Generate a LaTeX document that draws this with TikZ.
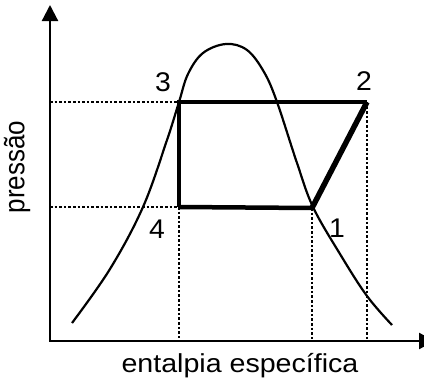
\documentclass[tikz,border=0pt]{standalone}
\usepackage{fontspec}
\setmainfont{Liberation Sans}
\usetikzlibrary{arrows.meta}
\begin{document}
\begin{tikzpicture}[x=1pt,y=-1pt,
  axis/.style={line width=2.2pt,-{Triangle[length=16pt,width=16pt]}},
  cycleline/.style={line width=4.5pt,line join=miter},
  dotline/.style={line width=2.6pt,dash pattern=on 2.6pt off 2pt},
  curve/.style={line width=2.2pt},
  lbl/.style={font=\fontsize{26}{26}\selectfont,xscale=1.1,inner sep=0pt},
  num/.style={font=\fontsize{27}{27}\selectfont,xscale=1.05,inner sep=0pt}]
\clip (0,0) rectangle (424,383);
\fill[white] (0,0) rectangle (424,383);
\coordinate (O) at (50,341);
\coordinate (yend) at (50,5);
\coordinate (xend) at (435,341);
\coordinate (p1) at (312,208);
\coordinate (p2) at (367,102);
\coordinate (p3) at (179,102);
\coordinate (p4) at (179,207);
\coordinate (yhi) at (50,102);
\coordinate (ylo) at (50,207);
\coordinate (x4) at (179,341);
\coordinate (x1) at (312,341);
\coordinate (x2) at (367,341);
% dotted guides
\draw[dotline] (yhi) -- (p3);
\draw[dotline] (ylo) -- (p4);
\draw[dotline] (p4) -- (x4);
\draw[dotline] (p1) -- (x1);
\draw[dotline] (p2) -- (x2);
% saturation dome
\draw[curve] plot[smooth,tension=0.6] coordinates {(72,323) (110,269) (143,207) (167,140) (179,102) (188,74) (203,53) (226,44) (247,50) (264,72) (277,102) (297,163) (313,207) (340,254) (367,296) (392,325)};
% cycle
\draw[cycleline] (p4) -- (p1);
\draw[cycleline,line width=5.5pt] (p1) -- (p2);
\draw[cycleline] (p2) -- (p3) -- (p4);
% axes
\draw[axis] (O) -- (yend);
\draw[axis] ([xshift=-1.1pt]O) -- (xend);
% labels
\node[num] (l3) at (163,82) {3};
\node[num] (l2) at (364,81) {2};
\node[num] (l4) at (157,229) {4};
\node[num] (l1) at (337,228) {1};
\node[lbl,rotate=90,anchor=center] (ylab) at (17,167) {pressão};
\node[lbl,anchor=center] (xlab) at (240,366) {entalpia específica};
\end{tikzpicture}
\end{document}
